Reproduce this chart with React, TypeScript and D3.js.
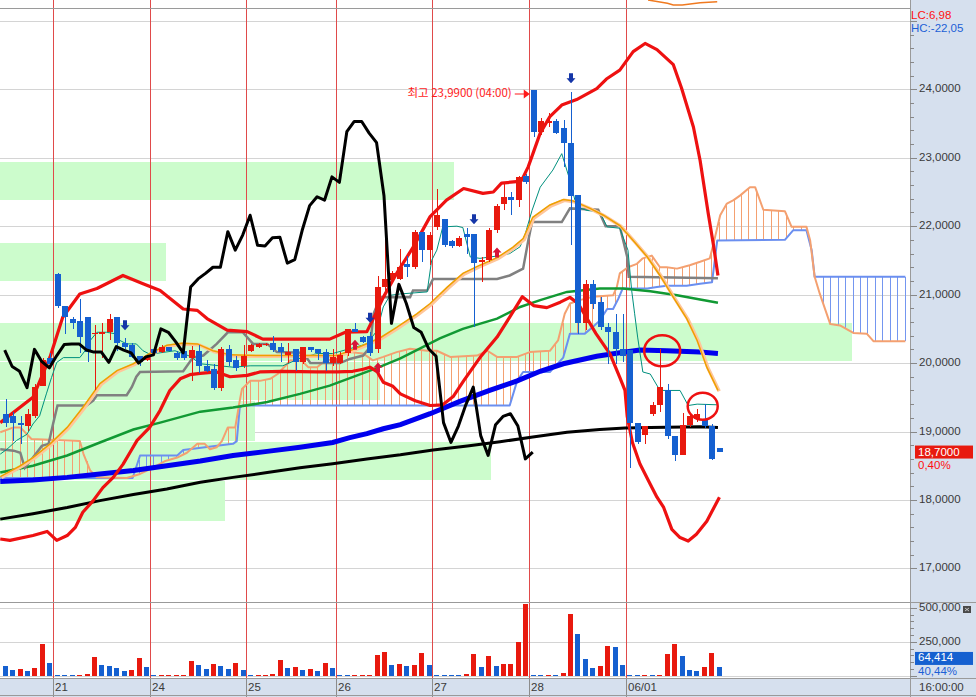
import React from "react";
import * as d3 from "d3";

type P = [number, number];

// ---------- candle data (bar index 0..96) ----------
const opens = [19.26,19.22,19.13,19.08,19.23,19.66,20.08,21.30,20.84,20.65,
20.62,20.67,20.42,20.42,20.45,20.67,20.30,20.26,20.10,20.05,
20.20,20.16,20.23,20.14,20.18,20.07,20.18,19.95,19.92,19.64,
20.20,20.04,19.95,20.17,20.24,20.27,20.29,20.23,20.12,20.21,
20.01,20.23,20.21,20.16,20.00,20.00,20.14,20.50,20.38,20.40,
20.20,21.11,21.21,21.23,21.45,21.40,21.92,21.65,21.99,22.11,
21.78,21.71,21.88,21.89,21.48,21.51,21.94,22.33,22.43,22.38,
22.74,23.99,23.38,23.51,23.54,23.43,23.21,22.45,20.58,21.15,
20.89,20.53,20.46,20.21,20.19,19.12,18.95,19.25,19.39,19.60,
18.94,18.65,19.09,19.18,19.18,19.08,18.76];
const highs = [19.48,19.28,19.23,19.33,19.70,20.08,20.14,21.32,20.84,20.68,
20.94,20.67,20.55,20.58,20.72,20.67,20.36,20.29,20.11,20.12,
20.21,20.26,20.24,20.17,20.21,20.25,20.26,20.04,19.99,20.23,
20.26,20.11,20.27,20.28,20.30,20.30,20.40,20.29,20.29,20.21,
20.24,20.23,20.21,20.21,20.21,20.16,20.50,20.58,20.40,20.45,
21.27,21.94,21.35,21.67,21.56,21.95,21.92,21.92,22.55,22.11,
21.80,21.85,21.97,21.89,21.55,21.97,22.32,22.63,22.50,22.74,
22.76,23.99,23.58,23.65,23.56,23.55,23.96,22.45,21.21,21.21,
20.96,20.58,20.72,20.72,20.19,19.12,19.08,19.43,20.21,19.70,
18.94,19.27,19.26,19.33,19.40,19.11,18.76];
const lows = [19.06,18.86,18.82,19.01,19.20,19.66,19.96,20.80,20.43,20.50,
20.14,20.01,19.60,20.07,20.33,20.18,20.21,20.08,19.96,20.03,
20.12,20.15,20.17,20.04,20.05,19.74,19.85,19.87,19.61,19.59,
19.96,19.89,19.93,20.16,20.22,20.25,20.16,20.01,20.00,19.89,
19.99,20.16,20.04,19.89,19.96,19.98,20.11,20.45,20.29,20.11,
20.14,20.96,21.18,21.21,21.26,21.38,21.48,21.44,21.94,21.69,
21.68,21.69,21.60,20.52,21.18,21.47,21.90,22.23,22.16,22.28,
22.62,23.30,23.33,23.45,23.35,22.87,21.72,20.43,20.48,20.79,
20.48,19.99,19.99,20.01,18.47,18.82,18.82,19.23,19.28,18.89,
18.57,18.65,19.06,19.14,19.05,18.59,18.70];
const closes = [19.13,19.12,19.10,19.25,19.65,20.05,19.99,20.83,20.68,20.59,
20.38,20.16,20.44,20.45,20.64,20.29,20.23,20.09,20.01,20.11,
20.14,20.24,20.18,20.07,20.07,20.19,19.95,19.88,19.64,20.20,
20.02,19.93,20.11,20.27,20.28,20.28,20.19,20.16,20.16,20.01,
20.24,20.19,20.15,20.00,20.09,20.12,20.50,20.45,20.31,20.15,
21.11,21.23,21.31,21.40,21.40,21.92,21.65,21.87,22.16,21.72,
21.71,21.83,21.84,21.46,21.51,21.94,22.30,22.43,22.38,22.72,
22.64,23.38,23.53,23.53,23.36,23.22,22.44,20.58,21.15,20.87,
20.52,20.45,20.21,20.10,19.13,18.84,19.08,19.39,19.65,18.94,
18.65,19.10,19.22,19.26,19.08,18.60,18.70];

const volumes = [68000,42000,49000,35000,57000,233000,93000,8000,8000,8000,
8000,14000,135000,79000,71000,57000,35000,42000,130000,64000,
8000,8000,8000,8000,8000,108000,79000,49000,86000,71000,
49000,93000,42000,8000,8000,8000,14000,115000,57000,64000,
42000,49000,35000,93000,57000,8000,8000,8000,8000,8000,
152000,174000,79000,86000,71000,79000,167000,79000,8000,8000,
8000,8000,14000,160000,64000,145000,71000,83000,83000,250000,
527000,8000,8000,8000,8000,20000,454000,307000,123000,57000,
71000,218000,211000,79000,8000,8000,8000,8000,8000,160000,
233000,145000,42000,35000,64000,167000,64414];
const volumeSide = "BBRBRRBBBBRRRBBBBRRBBRRRRRBBRBBRBBRRRRBRBRBRBBBRRRRRBRBRRBBBBBRRBRBRRRRBBRBRRBBBRRBBBBRBRRRBBBRRB";

// ---------- axis / calendar ----------
const dayBreaks = [6.5, 19.5, 32.5, 44.5, 57.5, 70.5, 83.5];
const dayLabels = ["21", "24", "25", "26", "27", "28", "06/01"];
const priceTicks = [17, 18, 19, 20, 21, 22, 23, 24];
const priceGrid = [17, 18, 19, 20, 21, 22, 23, 24, 25];
const volumeTicks = [250000, 500000];

// ---------- horizontal price zones ----------
const zoneHigh = [22.94, 21.76, 20.59, 20.02, 19.44, 18.84, 18.27];
const zoneLow = [22.37, 21.19, 20.02, 19.44, 18.85, 18.27, 17.68];
const zoneEnd = [60.4, 21.7, 113.9, 50.5, 33.6, 65.4, 29.6];

// ---------- indicators [bar index, price] ----------
const bbUpper: P[] = [[-0.6,19.13],[3.8,19.50],[6.1,20.09],[7.8,20.67],[10.1,21.01],[12.4,21.09],[15.9,21.28],[18.6,21.16],[20.9,21.06],[24.0,20.79],[25.9,20.77],[27.2,20.65],[29.9,20.48],[32.6,20.46],[34.7,20.35],[43.7,20.35],[45.8,20.45],[48.7,20.46],[50.1,20.77],[50.9,20.96],[52.7,21.31],[54.9,21.69],[57.2,22.14],[59.4,22.38],[61.7,22.55],[64.3,22.48],[65.7,22.50],[66.8,22.63],[68.8,22.65],[69.5,22.67],[70.4,22.87],[72.0,23.36],[73.3,23.60],[74.9,23.77],[76.9,23.85],[79.6,24.01],[80.9,24.15],[82.7,24.28],[84.5,24.55],[86.1,24.67],[87.7,24.58],[89.9,24.36],[91.0,24.02],[92.6,23.45],[93.5,22.96],[94.6,22.18],[95.3,21.72],[95.9,21.28]];
const bbLower: P[] = [[-0.6,17.43],[0.7,17.41],[3.8,17.48],[5.7,17.54],[7.0,17.41],[8.4,17.48],[9.5,17.60],[10.5,17.82],[11.9,17.99],[13.2,18.18],[14.6,18.33],[15.9,18.52],[17.1,18.74],[17.8,18.87],[19.5,19.06],[20.9,19.31],[22.2,19.60],[23.6,19.77],[24.9,19.83],[26.3,19.85],[28.5,19.87],[30.3,19.80],[32.6,19.82],[34.3,19.87],[37.4,19.88],[42.0,19.87],[44.7,19.87],[46.8,19.88],[48.2,19.91],[49.1,19.94],[50.1,19.87],[50.9,19.72],[52.2,19.66],[53.2,19.55],[55.2,19.45],[57.2,19.38],[58.9,19.39],[60.3,19.51],[61.7,19.74],[63.9,20.08],[66.2,20.38],[67.9,20.67],[69.6,20.97],[71.1,20.84],[72.9,20.81],[74.7,20.89],[76.0,20.96],[77.1,20.87],[78.2,20.67],[79.5,20.43],[81.4,20.13],[82.7,19.79],[83.4,19.60],[83.7,19.22],[84.4,18.84],[85.4,18.53],[86.8,18.23],[87.7,18.04],[88.6,17.89],[89.7,17.57],[90.8,17.45],[91.9,17.40],[93.0,17.50],[94.4,17.69],[96.1,18.04]];
const maGold: P[] = [[-0.6,18.34],[2.1,18.50],[3.8,18.62],[6.1,18.82],[8.4,19.06],[10.5,19.35],[12.8,19.70],[15.1,19.89],[17.3,19.99],[19.5,20.14],[21.8,20.26],[23.8,20.29],[25.9,20.28],[28.0,20.18],[30.3,20.12],[34.3,20.11],[44.7,20.11],[46.4,20.18],[48.2,20.26],[50.5,20.37],[52.7,20.52],[55.4,20.72],[57.2,20.87],[59.5,21.11],[61.6,21.31],[63.9,21.43],[66.2,21.54],[68.3,21.69],[69.7,21.82],[71.0,22.13],[73.3,22.31],[75.1,22.39],[76.4,22.37],[78.7,22.26],[80.5,22.16],[82.7,22.01],[84.5,21.79],[86.4,21.55],[88.1,21.28],[89.9,20.96],[91.7,20.65],[93.1,20.33],[94.4,19.94],[95.9,19.60]];
const maGreen: P[] = [[-0.6,18.40],[3.8,18.50],[8.4,18.65],[12.8,18.84],[17.3,19.03],[20.9,19.13],[26.3,19.29],[30.7,19.35],[35.3,19.43],[39.7,19.55],[43.7,19.67],[47.4,19.82],[50.1,19.93],[53.2,20.07],[55.8,20.21],[58.5,20.36],[61.6,20.50],[66.2,20.65],[69.3,20.82],[72.0,20.92],[75.6,21.04],[80.0,21.09],[83.1,21.09],[86.8,21.05],[90.4,20.99],[93.5,20.93],[95.9,20.88]];
const maBlue: P[] = [[-0.6,18.27],[3.8,18.29],[8.4,18.33],[12.8,18.38],[17.3,18.43],[21.8,18.50],[26.3,18.57],[30.7,18.65],[35.3,18.71],[39.7,18.77],[44.1,18.84],[46.4,18.91],[48.7,18.97],[50.9,19.04],[53.2,19.10],[57.2,19.26],[61.2,19.44],[65.2,19.60],[68.9,19.74],[72.0,19.88],[75.1,19.99],[79.6,20.10],[82.7,20.15],[85.4,20.19],[89.0,20.18],[93.5,20.16],[95.9,20.14]];
const maBlack: P[] = [[-0.6,17.72],[3.8,17.80],[8.4,17.89],[12.8,17.99],[17.3,18.08],[21.8,18.16],[26.3,18.26],[30.7,18.33],[35.3,18.40],[39.7,18.47],[44.1,18.53],[48.7,18.60],[53.2,18.66],[57.6,18.73],[62.2,18.79],[66.6,18.85],[71.0,18.92],[75.6,18.99],[80.0,19.03],[83.4,19.05],[86.8,19.06],[93.5,19.07],[95.9,19.06]];
const tenkan: P[] = [[-0.6,18.67],[0.3,18.74],[1.6,18.87],[3.0,18.96],[3.8,19.11],[4.7,19.23],[5.6,19.55],[6.3,19.79],[7.0,20.01],[7.9,20.08],[10.1,20.08],[10.8,20.18],[11.5,20.33],[12.4,20.45],[13.7,20.45],[14.8,20.43],[15.5,20.33],[16.4,20.28],[17.7,20.28],[18.6,20.18],[19.5,20.13],[20.9,20.15],[22.9,20.18],[24.9,20.10],[26.3,19.99],[30.7,19.94],[33.0,19.96],[37.4,19.96],[39.7,20.07],[42.0,20.14],[44.1,20.14],[46.4,20.21],[48.7,20.28],[50.1,20.48],[50.9,20.82],[51.8,20.99],[53.2,21.01],[56.8,21.04],[57.4,21.50],[58.1,21.65],[58.9,21.99],[60.8,22.00],[61.6,21.98],[62.6,21.55],[63.9,21.53],[66.6,21.57],[67.9,21.60],[69.3,21.70],[70.0,21.89],[70.9,22.23],[72.0,22.57],[73.7,22.82],[74.9,23.06],[76.0,22.67],[76.9,22.28],[78.3,22.23],[80.0,22.21],[81.0,21.99],[82.7,21.97],[83.8,21.65],[84.3,21.06],[84.7,20.72],[85.1,20.38],[85.8,19.87],[86.8,19.84],[88.1,19.60],[90.8,19.60],[91.9,19.38],[93.1,19.40],[95.9,19.39]];
const kijun: P[] = [[-0.6,18.74],[1.2,18.72],[2.1,18.69],[2.7,18.47],[3.8,18.62],[5.0,18.79],[5.9,18.82],[6.5,19.11],[7.1,19.38],[11.0,19.38],[11.9,19.45],[12.4,19.53],[16.4,19.53],[17.1,19.65],[17.7,19.80],[18.2,19.87],[24.0,19.88],[25.3,20.08],[26.7,20.11],[28.5,20.28],[30.0,20.45],[32.0,20.45],[33.4,20.28],[35.3,20.28],[36.6,20.16],[40.1,20.15],[41.1,20.00],[45.1,20.00],[46.4,20.06],[48.2,20.11],[49.1,20.23],[49.6,20.72],[50.5,20.96],[54.5,20.96],[54.9,21.06],[56.8,21.06],[57.6,21.23],[66.2,21.23],[67.9,21.28],[69.7,21.38],[70.4,21.79],[70.9,22.06],[74.9,22.06],[76.0,22.26],[79.8,22.24],[80.8,22.00],[82.7,22.00],[83.7,21.55],[83.9,21.26],[95.9,21.24]];
const spanA: P[] = [[-0.6,18.99],[1.2,19.06],[2.1,19.06],[3.6,18.89],[10.1,18.86],[10.6,18.67],[11.5,18.43],[12.4,18.33],[16.4,18.32],[18.2,18.38],[19.9,18.47],[21.6,18.57],[23.2,18.62],[24.5,18.69],[25.9,18.82],[26.9,18.82],[27.6,18.74],[28.5,18.77],[29.2,18.86],[30.0,19.06],[31.0,19.06],[31.6,19.45],[31.9,19.62],[33.0,19.74],[34.3,19.74],[35.7,19.77],[36.7,19.84],[38.0,19.99],[38.4,20.04],[40.0,20.03],[40.8,19.94],[42.0,19.94],[42.8,20.01],[46.4,20.16],[48.2,20.14],[49.5,20.04],[50.9,20.09],[52.7,20.16],[54.5,20.21],[56.8,20.18],[58.1,20.18],[58.9,20.14],[59.9,20.09],[63.5,20.11],[64.9,20.18],[66.2,20.09],[68.9,20.09],[70.6,20.16],[73.3,20.18],[74.4,20.33],[75.3,20.72],[76.0,20.87],[77.3,20.92],[79.1,20.97],[81.8,20.99],[82.3,21.11],[82.7,21.31],[83.8,21.40],[85.0,21.45],[85.8,21.53],[87.0,21.57],[88.1,21.40],[89.0,21.40],[90.4,21.38],[92.1,21.43],[93.5,21.48],[94.8,21.53],[95.2,21.70],[96.2,22.16],[97.1,22.33],[98.0,22.38],[98.9,22.45],[100.2,22.57],[100.9,22.57],[102.0,22.24],[104.9,22.22],[105.8,21.99],[107.8,21.99],[108.3,21.79],[108.9,21.26],[109.6,21.01],[111.0,20.57],[112.3,20.55],[114.1,20.44],[115.9,20.43],[116.8,20.32],[121.1,20.32]];
const spanB: P[] = [[-0.6,18.32],[17.2,18.32],[18.2,18.65],[23.2,18.65],[24.0,18.73],[30.7,18.82],[31.2,18.86],[31.6,19.35],[32.0,19.38],[67.9,19.38],[68.9,19.74],[69.7,19.87],[73.3,19.87],[75.1,20.08],[76.0,20.43],[78.0,20.43],[79.0,20.52],[80.0,20.62],[81.0,20.79],[81.8,20.79],[82.5,20.94],[83.1,21.09],[86.4,21.09],[87.7,21.11],[89.0,21.13],[91.7,21.13],[93.5,21.16],[95.1,21.18],[95.8,21.79],[104.9,21.80],[106.0,21.94],[107.8,21.94],[108.5,21.65],[108.9,21.26],[121.1,21.26]];
const chikouShift = 25;

// ---------- signals & annotations ----------
const sellIdx = [16, 49, 63, 76];
const sellPrice = [20.48, 20.59, 22.03, 24.09];
const buyIdx = [47, 50, 66];
const buyPrice = [20.34, 20.01, 21.69];
const circleIdx = [88.4, 93.85];
const circlePrice = [20.18, 19.37];
const highIdx = 71;
const highLabel = "최고 23,9900 (04:00)";
const topStripIdx = [86.5, 89.1, 89.9, 91.1, 93.5, 95.8];
const topStripVal = [8, 4.7, 3, 3, 5.3, 6.3];

const FONT = "'Liberation Sans',Arial,sans-serif";
const KFONT = "'Noto Sans CJK KR','Liberation Sans',sans-serif";
const RED = "#e8190e";
const BLUE = "#1560d0";

function valueAt(poly: P[], k: number): number | null {
  if (k < poly[0][0] || k > poly[poly.length - 1][0]) return null;
  for (let j = 1; j < poly.length; j++) {
    if (k <= poly[j][0]) {
      const [x0, y0] = poly[j - 1];
      const [x1, y1] = poly[j];
      const t = x1 === x0 ? 0 : (k - x0) / (x1 - x0);
      return y0 + t * (y1 - y0);
    }
  }
  return null;
}

const fmtPrice = (v: number) => v.toFixed(4).replace(".", ",");
const fmtVol = d3.format(",");

export default function App() {
  const W = 976, H = 697;
  const PLOT_R = 910, TOP = 8.5, PRICE_B = 602.5, VOL_B = 678.5;
  const x = d3.scaleLinear().domain([0, 96]).range([4.7, 718.7]);
  const y = d3.scaleLinear().domain([17, 24]).range([568.4, 89.3]);
  const v = d3.scaleLinear().domain([0, 500000]).range([675.7, 607.7]);
  const topY = d3.scaleLinear().domain([0, 8]).range([8, 0]);
  const line = d3.line<P>().x(d => x(d[0])).y(d => y(d[1]));
  const topLine = d3.line<number>().x((_, i) => x(topStripIdx[i])).y(d => topY(d));

  const chikou: P[] = closes.slice(chikouShift).map((c, i) => [i, c]);
  const hatch = d3.range(0, 122).map(k => {
    const a = valueAt(spanA, k), b = valueAt(spanB, k);
    return a == null || b == null ? null : { k, a, b };
  }).filter(Boolean) as { k: number; a: number; b: number }[];

  const px = (i: number) => Math.round(x(i));
  const minorPrice = d3.range(17, 25.001, 0.2);
  const minorVol = d3.range(0, 500001, 50000);
  const lastY = y(closes[96]);
  const lastV = v(volumes[96]);

  return (
    <svg width={W} height={H} viewBox={`0 0 ${W} ${H}`}
      style={{ position: "fixed", left: 0, top: 0, background: "#fff", display: "block" }}>
      <defs>
        <clipPath id="pc"><rect x={0} y={TOP} width={PLOT_R} height={PRICE_B - TOP} /></clipPath>
        <clipPath id="tc"><rect x={0} y={0} width={PLOT_R} height={TOP} /></clipPath>
      </defs>
      <rect x={0} y={0} width={W} height={H} fill="#fff" />
      <rect x={PLOT_R} y={0} width={W - PLOT_R} height={H} fill="#d6e0ee" />
      <rect x={0} y={VOL_B} width={W} height={H - VOL_B} fill="#d6e0ee" />

      {/* grid */}
      <g shapeRendering="crispEdges" stroke="#d4d4d4" strokeWidth={1}>
        {priceGrid.map(p => <line key={p} x1={0} x2={PLOT_R} y1={Math.round(y(p)) + 0.5} y2={Math.round(y(p)) + 0.5} />)}
        {volumeTicks.map(t => <line key={t} x1={0} x2={PLOT_R} y1={Math.round(v(t)) + 0.5} y2={Math.round(v(t)) + 0.5} />)}
        <line x1={0} x2={PLOT_R} y1={Math.round(v(0)) + 0.5} y2={Math.round(v(0)) + 0.5} />
      </g>

      {/* price zones */}
      <g clipPath="url(#pc)" shapeRendering="crispEdges">
        {zoneHigh.map((hi, i) => (
          <rect key={i} x={0} width={x(zoneEnd[i])} y={Math.round(y(hi))}
            height={Math.round(y(zoneLow[i])) - Math.round(y(hi)) - 1} fill="#ccfccc" />
        ))}
      </g>

      {/* day separators */}
      <g shapeRendering="crispEdges">
        {dayBreaks.map(b => (
          <g key={b}>
            <line x1={Math.round(x(b)) + 0.5} x2={Math.round(x(b)) + 0.5} y1={0} y2={VOL_B} stroke="#e04a4a" />
            <line x1={Math.round(x(b)) + 0.5} x2={Math.round(x(b)) + 0.5} y1={VOL_B} y2={H} stroke="#8c8c8c" />
          </g>
        ))}
      </g>

      {/* panel borders */}
      <g shapeRendering="crispEdges" stroke="#9a9a9a">
        <line x1={0} x2={PLOT_R} y1={TOP} y2={TOP} />
        <line x1={0} x2={W} y1={PRICE_B} y2={PRICE_B} />
        <line x1={0} x2={W} y1={VOL_B} y2={VOL_B} />
        <line x1={0} x2={W} y1={H - 1.5} y2={H - 1.5} />
        <line x1={PLOT_R + 0.5} x2={PLOT_R + 0.5} y1={0} y2={H} />
      </g>

      <path clipPath="url(#tc)" d={topLine(topStripVal) || ""} fill="none" stroke="#f07a20" strokeWidth={1.5} />

      <g clipPath="url(#pc)">
        {/* ichimoku cloud hatch */}
        <g shapeRendering="crispEdges">
          {hatch.map(h => (
            <line key={h.k} x1={px(h.k) + 0.5} x2={px(h.k) + 0.5} y1={y(h.a)} y2={y(h.b)}
              stroke={h.a >= h.b ? "#f4a070" : "#7496f0"} strokeWidth={1} />
          ))}
        </g>
        <path d={line(spanB) || ""} fill="none" stroke="#6b8ff0" strokeWidth={2} strokeLinejoin="round" />
        <path d={line(spanA) || ""} fill="none" stroke="#f4a070" strokeWidth={2} strokeLinejoin="round" />

        {/* moving averages */}
        <path d={line(maBlack) || ""} fill="none" stroke="#000" strokeWidth={3} />
        <path d={line(maBlue) || ""} fill="none" stroke="#0000ee" strokeWidth={5} />
        <path d={line(maGreen) || ""} fill="none" stroke="#119933" strokeWidth={2.5} />
        <path d={line(kijun) || ""} fill="none" stroke="#808080" strokeWidth={2.5} />
        <path d={line(tenkan) || ""} fill="none" stroke="#00907e" strokeWidth={1} />
        <path d={line(maGold) || ""} fill="none" stroke="#ffc69a" strokeWidth={3.5} transform="translate(1.2,0.8)" />
        <path d={line(maGold) || ""} fill="none" stroke="#eea000" strokeWidth={1.5} />

        {/* bollinger bands */}
        <path d={line(bbUpper) || ""} fill="none" stroke="#ee1111" strokeWidth={3.2} strokeLinejoin="round" />
        <path d={line(bbLower) || ""} fill="none" stroke="#ee1111" strokeWidth={3.2} strokeLinejoin="round" />

        {/* candles */}
        <g shapeRendering="crispEdges">
          {opens.map((o, i) => {
            const c = closes[i];
            const col = c >= o ? RED : BLUE;
            const top = Math.round(y(Math.max(o, c)));
            const bot = Math.round(y(Math.min(o, c)));
            return (
              <g key={i}>
                <line x1={px(i) + 1} x2={px(i) + 1} y1={y(highs[i])} y2={y(lows[i])} stroke={col} />
                <rect x={px(i) - 2} width={6} y={top} height={Math.max(1, bot - top)} fill={col} />
              </g>
            );
          })}
        </g>

        {/* lagging span */}
        <path d={line(chikou) || ""} fill="none" stroke="#000" strokeWidth={3} strokeLinejoin="round" />

        {/* signals */}
        {sellIdx.map((k, i) => {
          const cx = px(k) + 1, ty = y(sellPrice[i]);
          return <path key={"s" + i} fill="#1536a8"
            d={`M${cx - 2},${ty - 10}h4v5h2.5l-4.5,5l-4.5,-5h2.5z`} />;
        })}
        {buyIdx.map((k, i) => {
          const cx = px(k) + 1, ty = y(buyPrice[i]);
          return <path key={"b" + i} fill="#d81438"
            d={`M${cx},${ty}l4.5,5h-2.5v5h-4v-5h-2.5z`} />;
        })}

        {/* circles */}
        {circleIdx.map((k, i) => (
          <ellipse key={"c" + i} cx={x(k)} cy={y(circlePrice[i])} rx={i === 0 ? 18 : 15} ry={i === 0 ? 15.5 : 13.5}
            fill="none" stroke="#ee1111" strokeWidth={2.5} />
        ))}

        {/* high annotation */}
        <g>
          <text x={x(highIdx) - 21} y={y(highs[highIdx]) + 4} textAnchor="end" fontFamily={KFONT}
            fontSize={11.5} fill="#ff1a1a" dominantBaseline="middle">{highLabel}</text>
          <line x1={x(highIdx) - 18} x2={x(highIdx) - 7} y1={y(highs[highIdx]) + 4} y2={y(highs[highIdx]) + 4}
            stroke="#ff1a1a" strokeWidth={1.2} />
          <path d={`M${x(highIdx) - 3},${y(highs[highIdx]) + 4}l-6,-4.5v9z`} fill="#ff1a1a" />
        </g>
      </g>

      {/* volume bars */}
      <g shapeRendering="crispEdges">
        {volumes.map((vol, i) => {
          const top = Math.round(v(vol));
          const base = Math.round(v(0));
          return <rect key={i} x={px(i) - 2} width={5} y={Math.min(top, base - 1)} height={Math.max(1, base - top)}
            fill={volumeSide[i] === "R" ? RED : BLUE} />;
        })}
      </g>

      {/* right axis ticks */}
      <g shapeRendering="crispEdges" stroke="#888">
        {minorPrice.map((p, i) => (
          <line key={i} x1={PLOT_R} x2={PLOT_R + (Math.abs(p - Math.round(p)) < 1e-6 ? 7 : 4)}
            y1={Math.round(y(p)) + 0.5} y2={Math.round(y(p)) + 0.5} />
        ))}
        {minorVol.map((t, i) => (
          <line key={"v" + i} x1={PLOT_R} x2={PLOT_R + (t % 250000 === 0 ? 7 : 4)}
            y1={Math.round(v(t)) + 0.5} y2={Math.round(v(t)) + 0.5} />
        ))}
      </g>
      <g fontFamily={FONT} fontSize={11.5} fill="#3a3a3a">
        {priceTicks.map(p => (
          <text key={p} x={919} y={y(p)} dominantBaseline="middle">{fmtPrice(p)}</text>
        ))}
        {volumeTicks.map(t => (
          <text key={t} x={919} y={v(t)} dominantBaseline="middle">{fmtVol(t)}</text>
        ))}
        {dayBreaks.map((b, i) => (
          <text key={b} x={Math.round(x(b)) + 2} y={688} dominantBaseline="middle">{dayLabels[i]}</text>
        ))}
        <text x={919} y={688} dominantBaseline="middle">16:00:00</text>
      </g>
      <rect x={963} y={606} width={8} height={7} fill="#4a4a4a" />
      <path d="M965,608l4,3M969,608l-4,3" stroke="#ddd" strokeWidth={0.8} />

      {/* top-right info */}
      <g fontFamily={FONT} fontSize={11.5}>
        <text x={911} y={15.5} dominantBaseline="middle" fill="#ff1010">LC:6,98</text>
        <text x={911} y={29} dominantBaseline="middle" fill="#1c5fd6">HC:-22,05</text>
      </g>

      {/* current price / volume badges */}
      <g fontFamily={FONT} fontSize={11.5}>
        <rect x={915} y={lastY - 6.5} width={58} height={13} fill={RED} />
        <text x={918} y={lastY + 0.5} dominantBaseline="middle" fill="#fff">{fmtPrice(closes[96])}</text>
        <text x={918} y={lastY + 14} dominantBaseline="middle" fill="#ff1010">0,40%</text>
        <rect x={915} y={lastV - 15} width={58} height={13} fill={BLUE} />
        <text x={918} y={lastV - 8.5} dominantBaseline="middle" fill="#fff">{fmtVol(volumes[96])}</text>
        <text x={918} y={lastV + 5} dominantBaseline="middle" fill="#1c5fd6">40,44%</text>
      </g>
    </svg>
  );
}
